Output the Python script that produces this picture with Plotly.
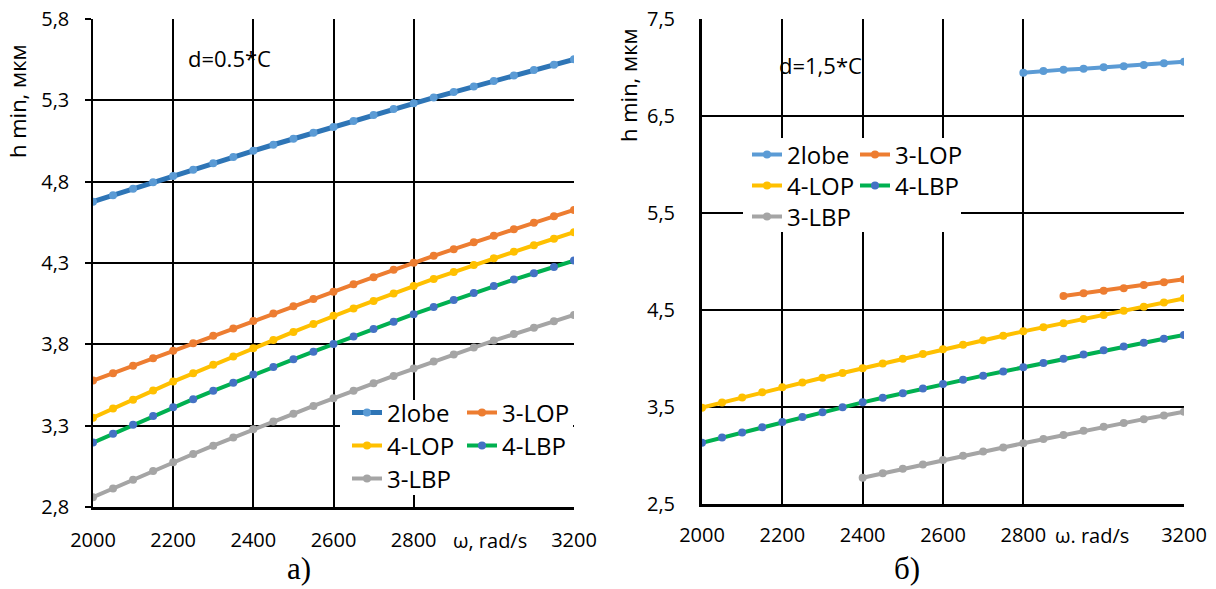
import plotly.graph_objects as go

W, H = 1216, 589

# ---------------- data ----------------
omega_full = [2000, 2050, 2100, 2150, 2200, 2250, 2300, 2350, 2400, 2450, 2500, 2550, 2600,
              2650, 2700, 2750, 2800, 2850, 2900, 2950, 3000, 3050, 3100, 3150, 3200]

# chart a) d=0.5*C
a_2lobe = [4.677, 4.717, 4.757, 4.796, 4.835, 4.874, 4.913, 4.951, 4.990, 5.027, 5.064, 5.100, 5.136,
           5.173, 5.210, 5.246, 5.282, 5.317, 5.351, 5.385, 5.419, 5.452, 5.486, 5.519, 5.552]
a_3lop = [3.577, 3.623, 3.669, 3.715, 3.761, 3.807, 3.852, 3.898, 3.944, 3.989, 4.034, 4.079, 4.124,
          4.169, 4.213, 4.258, 4.302, 4.344, 4.385, 4.427, 4.468, 4.508, 4.547, 4.587, 4.626]
a_4lop = [3.349, 3.405, 3.460, 3.516, 3.571, 3.622, 3.674, 3.725, 3.776, 3.826, 3.876, 3.925, 3.975,
          4.021, 4.067, 4.113, 4.159, 4.202, 4.244, 4.287, 4.329, 4.369, 4.409, 4.449, 4.489]
a_4lbp = [3.196, 3.250, 3.305, 3.359, 3.413, 3.463, 3.514, 3.564, 3.614, 3.661, 3.708, 3.755, 3.802,
          3.848, 3.894, 3.939, 3.985, 4.029, 4.072, 4.116, 4.159, 4.198, 4.237, 4.276, 4.315]
a_3lbp = [2.860, 2.914, 2.968, 3.021, 3.075, 3.126, 3.177, 3.227, 3.278, 3.326, 3.373, 3.421, 3.469,
          3.515, 3.560, 3.606, 3.651, 3.694, 3.737, 3.780, 3.823, 3.863, 3.902, 3.942, 3.981]

# chart б) d=1,5*C
b_omega_2lobe = [2800, 2850, 2900, 2950, 3000, 3050, 3100, 3150, 3200]
b_2lobe = [6.946, 6.964, 6.978, 6.988, 7.002, 7.012, 7.026, 7.043, 7.060]
b_omega_3lop = [2900, 2950, 3000, 3050, 3100, 3150, 3200]
b_3lop = [4.644, 4.672, 4.699, 4.724, 4.758, 4.785, 4.816]
b_4lop = [3.493, 3.546, 3.598, 3.651, 3.703, 3.752, 3.801, 3.850, 3.899, 3.948, 3.997, 4.046, 4.095,
          4.141, 4.187, 4.234, 4.280, 4.322, 4.364, 4.406, 4.448, 4.491, 4.534, 4.577, 4.620]
b_4lbp = [3.132, 3.185, 3.238, 3.292, 3.345, 3.396, 3.446, 3.497, 3.548, 3.595, 3.642, 3.690, 3.737,
          3.780, 3.823, 3.866, 3.909, 3.953, 3.997, 4.040, 4.084, 4.124, 4.163, 4.203, 4.242]
b_omega_3lbp = [2400, 2450, 2500, 2550, 2600, 2650, 2700, 2750, 2800, 2850, 2900, 2950, 3000,
                3050, 3100, 3150, 3200]
b_3lbp = [2.771, 2.817, 2.863, 2.908, 2.954, 2.997, 3.040, 3.083, 3.126, 3.169, 3.212, 3.254, 3.297,
          3.336, 3.375, 3.413, 3.452]

series_names = ["2lobe", "3-LOP", "4-LOP", "4-LBP", "3-LBP"]

x_tickvals = [2000, 2200, 2400, 2600, 2800, 3200]
x_ticktext = ["2000", "2200", "2400", "2600", "2800", "3200"]
a_y_tickvals = [2.8, 3.3, 3.8, 4.3, 4.8, 5.3, 5.8]
a_y_ticktext = ["2,8", "3,3", "3,8", "4,3", "4,8", "5,3", "5,8"]
b_y_tickvals = [2.5, 3.5, 4.5, 5.5, 6.5, 7.5]
b_y_ticktext = ["2,5", "3,5", "4,5", "5,5", "6,5", "7,5"]

# ---------------- styling ----------------
FONT = "Open Sans"
C_BLUE_L = "#2E75B6"
C_BLUE_M = "#5B9BD5"
C_ORANGE = "#ED7D31"
C_YELLOW = "#FFC000"
C_GREEN = "#00B050"
C_DBLUE = "#4472C4"
C_GRAY = "#A5A5A5"

# pixel geometry of the two plot areas
LX0, LX1, LY0, LY1 = 93, 574, 19, 507
RX0, RX1, RY0, RY1 = 702, 1184, 19, 504


def pxx(x):
    return x / W


def pxy(y):
    return 1 - y / H


fig = go.Figure()


def add(x, y, name, line_c, mark_c, lw, xa, ya, legend):
    fig.add_trace(go.Scatter(
        x=x, y=y, name=name, mode="lines+markers",
        line=dict(color=line_c, width=lw),
        marker=dict(color=mark_c, size=8),
        xaxis=xa, yaxis=ya, legend=legend, showlegend=True,
    ))


# left chart traces
add(omega_full, a_3lbp, "3-LBP", C_GRAY, C_GRAY, 4, "x", "y", "legend5")
add(omega_full, a_4lbp, "4-LBP", C_GREEN, C_DBLUE, 4, "x", "y", "legend4")
add(omega_full, a_4lop, "4-LOP", C_YELLOW, C_YELLOW, 4, "x", "y", "legend3")
add(omega_full, a_3lop, "3-LOP", C_ORANGE, C_ORANGE, 4, "x", "y", "legend2")
add(omega_full, a_2lobe, "2lobe", C_BLUE_L, C_BLUE_M, 5, "x", "y", "legend")

# right chart traces
add(b_omega_3lbp, b_3lbp, "3-LBP", C_GRAY, C_GRAY, 4, "x2", "y2", "legend10")
add(omega_full, b_4lbp, "4-LBP", C_GREEN, C_DBLUE, 4, "x2", "y2", "legend9")
add(omega_full, b_4lop, "4-LOP", C_YELLOW, C_YELLOW, 4, "x2", "y2", "legend8")
add(b_omega_3lop, b_3lop, "3-LOP", C_ORANGE, C_ORANGE, 4, "x2", "y2", "legend7")
add(b_omega_2lobe, b_2lobe, "2lobe", C_BLUE_M, C_BLUE_M, 4, "x2", "y2", "legend6")

tickfont = dict(family=FONT, size=20, color="black")

common_x = dict(range=[2000, 3200], tickvals=x_tickvals, ticktext=x_ticktext,
                showgrid=True, gridcolor="black", gridwidth=1.5, zeroline=False,
                showline=True, linecolor="black", tickfont=tickfont, ticks="",
                fixedrange=True, automargin=False)

layout = dict(
    width=W, height=H, margin=dict(l=0, r=0, t=0, b=0, autoexpand=False),
    paper_bgcolor="white", plot_bgcolor="white",
    font=dict(family=FONT, color="black"),
    xaxis=dict(domain=[pxx(LX0), pxx(LX1)], anchor="y", linewidth=2.5,
               ticklabelstandoff=13, **common_x),
    yaxis=dict(domain=[pxy(LY1), pxy(LY0)], anchor="x", range=[2.8, 5.8],
               tickvals=a_y_tickvals, ticktext=a_y_ticktext,
               showgrid=True, gridcolor="black", gridwidth=1.5, zeroline=False,
               showline=True, linecolor="black", linewidth=1.5,
               ticks="outside", ticklen=6, tickcolor="black", tickwidth=1.5,
               tickfont=tickfont, ticklabelstandoff=12, automargin=False, fixedrange=True),
    xaxis2=dict(domain=[pxx(RX0), pxx(RX1)], anchor="y2", linewidth=3,
                ticklabelstandoff=11, **common_x),
    yaxis2=dict(domain=[pxy(RY1), pxy(RY0)], anchor="x2", range=[2.5, 7.5],
                tickvals=b_y_tickvals, ticktext=b_y_ticktext,
                showgrid=True, gridcolor="black", gridwidth=1.5, zeroline=False,
                showline=True, linecolor="black", linewidth=3, ticks="",
                tickfont=tickfont, ticklabelstandoff=20, automargin=False, fixedrange=True),
)

# per-entry legends
legend_font = dict(family=FONT, size=24, color="black")
leg_pos = {
    "legend": (347, 413), "legend2": (462, 413),
    "legend3": (347, 446), "legend4": (462, 446),
    "legend5": (347, 479),
    "legend6": (747, 155), "legend7": (855, 155),
    "legend8": (747, 186), "legend9": (855, 186),
    "legend10": (747, 217),
}
for k, (lx, ly) in leg_pos.items():
    layout[k] = dict(x=pxx(lx), y=pxy(ly), xanchor="left", yanchor="middle",
                     xref="paper", yref="paper", bgcolor="rgba(0,0,0,0)",
                     borderwidth=0, font=legend_font, itemwidth=30,
                     tracegroupgap=0, orientation="h")

fig.update_layout(**layout)


# white legend boxes (between grid and traces)
def ax_x(px, x0, x1):
    return 2000 + (px - x0) / (x1 - x0) * 1200


def ax_y(py, y0, y1, lo, hi):
    return hi - (py - y0) / (y1 - y0) * (hi - lo)


fig.add_shape(type="rect", xref="x", yref="y", layer="between",
              x0=ax_x(340, LX0, LX1), x1=ax_x(573, LX0, LX1),
              y0=ax_y(495, LY0, LY1, 2.8, 5.8), y1=ax_y(400, LY0, LY1, 2.8, 5.8),
              fillcolor="white", line=dict(width=0))
fig.add_shape(type="rect", xref="x2", yref="y2", layer="between",
              x0=ax_x(743, RX0, RX1), x1=ax_x(961, RX0, RX1),
              y0=ax_y(232, RY0, RY1, 2.5, 7.5), y1=ax_y(138, RY0, RY1, 2.5, 7.5),
              fillcolor="white", line=dict(width=0))

# axis titles and annotations
title_font = dict(family=FONT, size=22, color="black")
ann = []


def note(text, x, y, font, xref="paper", angle=0):
    ann.append(dict(text=text, x=x, y=y, xref=xref, yref="paper", textangle=angle,
                    showarrow=False, xanchor="center", yanchor="middle", font=font))


note("h min, мкм", pxx(17), pxy(101), title_font, angle=-90)
note("h min, мкм", pxx(628), pxy(85), title_font, angle=-90)
note("ω, rad/s", 2990, pxy(540), tickfont, xref="x")
note("ω. rad/s", 2970, pxy(535), tickfont, xref="x2")
note("d=0.5*C", pxx(229), pxy(58), title_font)
note("d=1,5*C", pxx(820), pxy(65), title_font)
note("a)", pxx(299), pxy(568), dict(family="Liberation Serif", size=31, color="black"))
note("б)", pxx(907), pxy(568), dict(family="Liberation Serif", size=31, color="black"))
fig.update_layout(annotations=ann)

fig.write_html("out.html", post_script="document.body.style.margin='0px';",
               config={"displayModeBar": False})
